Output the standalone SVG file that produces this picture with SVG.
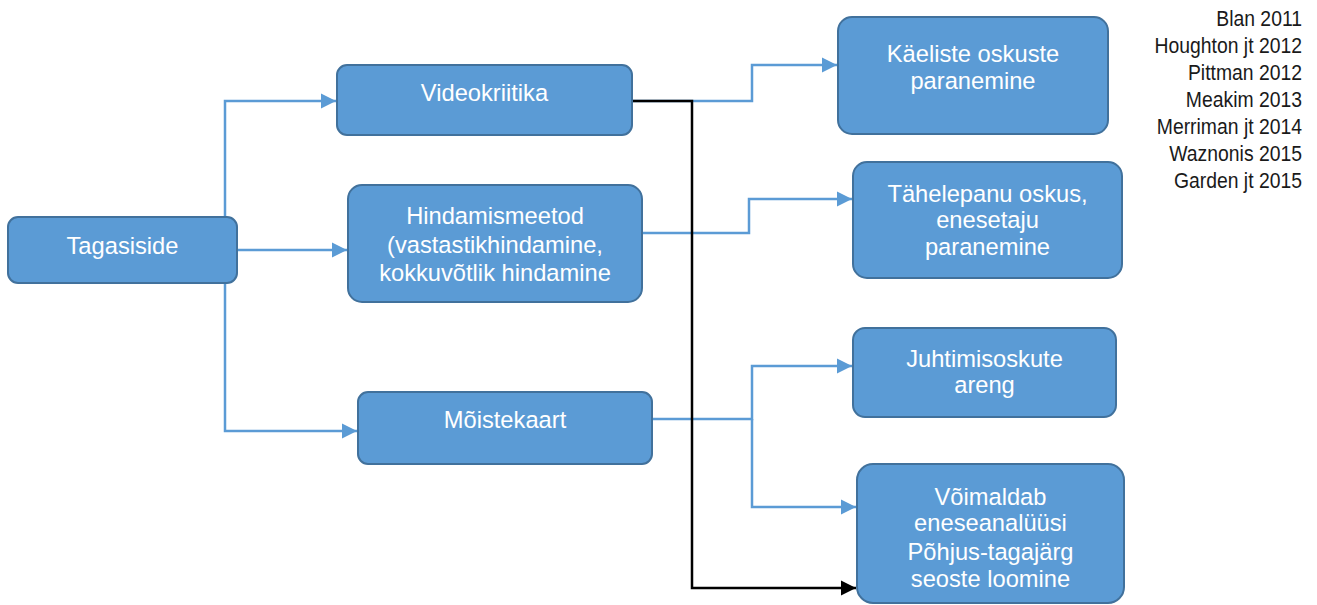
<svg xmlns="http://www.w3.org/2000/svg" width="1317" height="605" viewBox="0 0 1317 605">
<style>
.node rect{fill:#5B9BD5;stroke:#41719C;stroke-width:2}
.node text{font-family:"Liberation Sans",Arial,sans-serif;font-size:23.7px;fill:#FFFFFF;text-anchor:middle}
.blue{fill:none;stroke:#5B9BD5;stroke-width:2.5}
.black{fill:none;stroke:#000000;stroke-width:2.5}
.ref{font-family:"Liberation Sans",Arial,sans-serif;font-size:22px;fill:#1a1a1a;text-anchor:end}
</style>
<defs>
<marker id="ab" markerUnits="userSpaceOnUse" markerWidth="17" markerHeight="16" refX="15" refY="8" orient="auto"><path d="M0,0.5 L15,8 L0,15.5 Z" fill="#5B9BD5"/></marker>
<marker id="ak" markerUnits="userSpaceOnUse" markerWidth="17" markerHeight="16" refX="15" refY="8" orient="auto"><path d="M0,0.5 L15,8 L0,15.5 Z" fill="#000000"/></marker>
</defs>
<rect width="1317" height="605" fill="#FFFFFF"/>
<g id="connectors">
<path class="blue" d="M225,250 V101 H336" marker-end="url(#ab)"/>
<path class="blue" d="M237,250 H347" marker-end="url(#ab)"/>
<path class="blue" d="M225,250 V431 H357" marker-end="url(#ab)"/>
<path class="blue" d="M632,101 H752 V65 H837" marker-end="url(#ab)"/>
<path class="blue" d="M642,233 H749 V199 H852" marker-end="url(#ab)"/>
<path class="blue" d="M652,419 H752 V366 H852" marker-end="url(#ab)"/>
<path class="blue" d="M752,419 V507 H856" marker-end="url(#ab)"/>
<path class="black" d="M632,101 H692 V588 H856" marker-end="url(#ak)"/>
</g>
<g id="tagasiside" class="node"><rect x="8" y="217" width="229" height="66" rx="10"/><text x="122.5" y="254">Tagasiside</text></g>
<g id="videokriitika" class="node"><rect x="337" y="65" width="295" height="70" rx="10"/><text x="484.5" y="101">Videokriitika</text></g>
<g id="hindamismeetod" class="node"><rect x="348" y="185" width="294" height="117" rx="14"/><text x="495" y="224">Hindamismeetod</text><text x="495" y="253">(vastastikhindamine,</text><text x="495" y="281">kokkuvõtlik hindamine</text></g>
<g id="moistekaart" class="node"><rect x="358" y="392" width="294" height="72" rx="10"/><text x="505" y="428">Mõistekaart</text></g>
<g id="kaeliste" class="node"><rect x="838" y="17" width="270" height="117" rx="14"/><text x="973" y="62">Käeliste oskuste</text><text x="973" y="89">paranemine</text></g>
<g id="tahelepanu" class="node"><rect x="853" y="162" width="269" height="116" rx="14"/><text x="987.5" y="202">Tähelepanu oskus,</text><text x="987.5" y="228">enesetaju</text><text x="987.5" y="255">paranemine</text></g>
<g id="juhtimisoskute" class="node"><rect x="853" y="328" width="263" height="89" rx="12"/><text x="984.5" y="367">Juhtimisoskute</text><text x="984.5" y="393">areng</text></g>
<g id="voimaldab" class="node"><rect x="857" y="464" width="267" height="139" rx="16"/><text x="990.5" y="505">Võimaldab</text><text x="990.5" y="531">eneseanalüüsi</text><text x="990.5" y="560">Põhjus-tagajärg</text><text x="990.5" y="587">seoste loomine</text></g>
<g id="references" transform="translate(1302,0) scale(0.88,1)">
<text class="ref" x="0" y="26">Blan 2011</text>
<text class="ref" x="0" y="53">Houghton jt 2012</text>
<text class="ref" x="0" y="80">Pittman 2012</text>
<text class="ref" x="0" y="107">Meakim 2013</text>
<text class="ref" x="0" y="134">Merriman jt 2014</text>
<text class="ref" x="0" y="161">Waznonis 2015</text>
<text class="ref" x="0" y="188">Garden jt 2015</text>
</g>
</svg>
